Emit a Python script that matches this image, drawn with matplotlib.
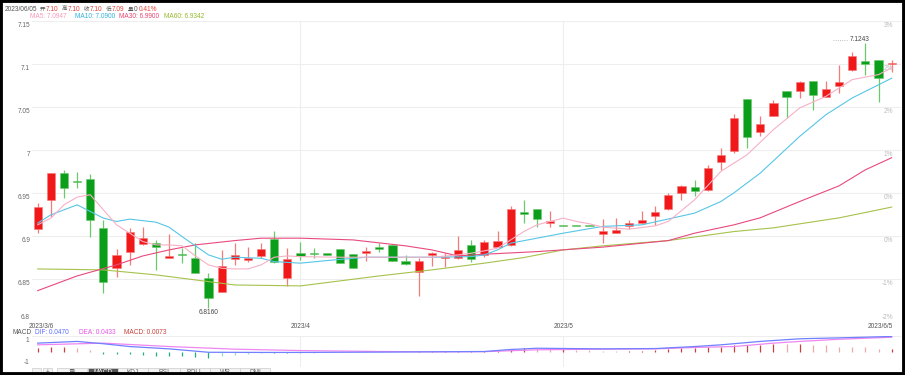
import matplotlib
matplotlib.use('Agg')
import matplotlib.pyplot as plt
from matplotlib.patches import Rectangle
import matplotlib.transforms as mtransforms

plt.rcParams['font.family'] = ['Liberation Sans', 'Noto Sans CJK SC', 'DejaVu Sans']

# daily candles, 2023/3/6 .. 2023/6/5 (red = up, green = down)
opens = [6.9077, 6.9418, 6.9728, 6.9635, 6.9662, 6.9089, 6.8624, 6.8817, 6.8907, 6.8914,
         6.8740, 6.8786, 6.8740, 6.8507, 6.8352, 6.8728, 6.8720, 6.8767, 6.8965, 6.8507,
         6.8798, 6.8798, 6.8790, 6.8845, 6.8786, 6.8806, 6.8876, 6.8891, 6.8713, 6.8585,
         6.8775, 6.8743, 6.8740, 6.8891, 6.8779, 6.8876, 6.8895, 6.9271, 6.9314, 6.9147,
         6.9118, 6.9118, 6.9118, 6.9023, 6.9038, 6.9120, 6.9155, 6.9232, 6.9310, 6.9496,
         6.9566, 6.9527, 6.9856, 6.9988, 7.0589, 7.0205, 7.0387, 7.0678, 7.0686, 7.0794,
         7.0608, 7.0744, 7.0930, 7.1035, 7.1046, 7.0996]
highs = [6.9387, 6.9730, 6.9770, 6.9736, 6.9720, 6.9186, 6.8845, 6.9089, 6.9100, 6.8953,
         6.9019, 6.8856, 6.8922, 6.8566, 6.8837, 6.8922, 6.8868, 6.8922, 6.9058, 6.8864,
         6.8934, 6.8856, 6.8795, 6.8850, 6.8790, 6.8876, 6.8914, 6.8895, 6.8779, 6.8740,
         6.8817, 6.8798, 6.9000, 6.8953, 6.8953, 6.9058, 6.9341, 6.9418, 6.9314, 6.9283,
         6.9118, 6.9118, 6.9118, 6.9193, 6.9205, 6.9186, 6.9283, 6.9341, 6.9496, 6.9593,
         6.9651, 6.9820, 7.0019, 7.0415, 7.0589, 7.0388, 7.0581, 7.0678, 7.0794, 7.0794,
         7.0802, 7.0988, 7.1132, 7.1243, 7.1046, 7.1046]
lows = [6.9030, 6.9224, 6.9438, 6.9554, 6.8990, 6.8333, 6.8527, 6.8662, 6.8895, 6.8604,
        6.8740, 6.8682, 6.8566, 6.8160, 6.8352, 6.8662, 6.8700, 6.8740, 6.8690, 6.8418,
        6.8720, 6.8740, 6.8782, 6.8690, 6.8631, 6.8709, 6.8817, 6.8713, 6.8662, 6.8302,
        6.8651, 6.8635, 6.8728, 6.8701, 6.8752, 6.8868, 6.8883, 6.9155, 6.9108, 6.9101,
        6.9114, 6.9114, 6.9114, 6.8914, 6.9031, 6.9081, 6.9147, 6.9128, 6.9302, 6.9418,
        6.9457, 6.9520, 6.9767, 6.9961, 7.0019, 7.0163, 7.0387, 7.0368, 7.0601, 7.0457,
        7.0608, 7.0659, 7.0911, 7.0872, 7.0550, 7.0907]
closes = [6.9333, 6.9728, 6.9554, 6.9630, 6.9186, 6.8469, 6.8779, 6.9050, 6.8980, 6.8876,
          6.8767, 6.8775, 6.8566, 6.8275, 6.8655, 6.8779, 6.8748, 6.8848, 6.8701, 6.8728,
          6.8767, 6.8795, 6.8786, 6.8690, 6.8631, 6.8825, 6.8849, 6.8713, 6.8670, 6.8709,
          6.8798, 6.8752, 6.8837, 6.8728, 6.8926, 6.8942, 6.9314, 6.9263, 6.9193, 6.9167,
          6.9116, 6.9116, 6.9116, 6.9058, 6.9069, 6.9147, 6.9186, 6.9275, 6.9476, 6.9581,
          6.9515, 6.9790, 6.9942, 7.0368, 7.0143, 7.0302, 7.0543, 7.0608, 7.0783, 7.0632,
          7.0705, 7.0783, 7.1093, 7.0996, 7.0833, 7.1003]

# moving averages (candle index, value)
ma5_x = [0, 1, 2, 3, 4, 5, 6, 7, 8, 9, 10, 11, 12, 13, 14, 15, 16, 17, 18, 19, 20, 23, 26, 30, 32, 33,
         34, 35, 36, 37, 38, 39, 40, 41, 42, 43, 45, 47, 48, 50, 52, 54, 56, 58, 60, 61, 62, 64, 65]
ma5_y = [6.9128, 6.9206, 6.9360, 6.9450, 6.9477, 6.9302, 6.9128, 6.9031, 6.8934, 6.8895, 6.8895,
         6.8884, 6.8767, 6.8663, 6.8624, 6.8616, 6.8616, 6.8663, 6.8752, 6.8767, 6.8759, 6.8752,
         6.8752, 6.8752, 6.8779, 6.8799, 6.8826, 6.8857, 6.8953, 6.9050, 6.9128, 6.9167, 6.9206,
         6.9167, 6.9140, 6.9101, 6.9078, 6.9116, 6.9167, 6.9419, 6.9748, 6.9942, 7.0233, 7.0485,
         7.0620, 7.0717, 7.0814, 7.0872, 7.0950]
ma10_x = [0, 1, 3, 5, 6, 7, 9, 10, 11, 13, 14, 15, 17, 18, 20, 22, 25, 28, 30, 33, 34, 35, 36, 38,
          40, 43, 46, 50, 52, 53, 55, 58, 60, 62, 65]
ma10_y = [6.9148, 6.9244, 6.9360, 6.9206, 6.9167, 6.9194, 6.9159, 6.9101, 6.8990, 6.8779, 6.8729,
          6.8752, 6.8740, 6.8701, 6.8683, 6.8713, 6.8752, 6.8752, 6.8752, 6.8759, 6.8779, 6.8837,
          6.8915, 6.8973, 6.9031, 6.9110, 6.9128, 6.9264, 6.9399, 6.9500, 6.9729, 7.0155, 7.0407,
          7.0601, 7.0830]
ma30_x = [0, 3, 6, 8, 10, 12, 15, 17, 20, 24, 28, 30, 32, 34, 38, 43, 48, 50, 53, 55, 58, 61, 63, 65]
ma30_y = [6.8364, 6.8535, 6.8663, 6.8767, 6.8837, 6.8895, 6.8945, 6.8973, 6.8973, 6.8953, 6.8884,
          6.8837, 6.8767, 6.8787, 6.8817, 6.8869, 6.8945, 6.9031, 6.9128, 6.9210, 6.9399, 6.9581,
          6.9767, 6.9907]
ma60_x = [0, 5, 9, 15, 20, 26, 30, 34, 37, 40, 43, 48, 53, 56, 61, 65]
ma60_y = [6.8616, 6.8605, 6.8547, 6.8430, 6.8419, 6.8535, 6.8605, 6.8683, 6.8748, 6.8837, 6.8884,
          6.8945, 6.9050, 6.9093, 6.9209, 6.9334]

# MACD pane (axis units: top = 1, bottom = -1)
dif_x = [0, 3, 5, 7, 10, 13, 17, 20, 26, 30, 34, 36, 38, 43, 47, 50, 52, 55, 58, 61, 65]
dif_y = [0.54, 0.65, 0.50, 0.32, 0.17, -0.05, -0.06, -0.06, -0.04, -0.02, 0.0, 0.13, 0.21, 0.17,
         0.19, 0.32, 0.43, 0.65, 0.82, 0.88, 0.97]
dea_x = [0, 5, 10, 15, 20, 26, 30, 34, 38, 43, 47, 50, 53, 56, 58, 61, 65]
dea_y = [0.43, 0.54, 0.32, 0.15, 0.06, 0.0, -0.02, -0.01, 0.11, 0.15, 0.17, 0.26, 0.32, 0.54, 0.65,
         0.79, 0.92]
hist = [0.21, 0.26, 0.26, 0.21, 0.11, -0.17, -0.17, -0.17, -0.21, -0.28, -0.32, -0.32, -0.37, -0.43,
        -0.32, -0.21, -0.17, -0.11, -0.11, -0.11, -0.10, -0.07, -0.05, -0.04, -0.03, -0.02, -0.02,
        -0.01, -0.01, 0.01, 0.01, 0.01, 0.02, 0.02, 0.03, 0.06, 0.13, 0.21, 0.17, 0.13, 0.13, 0.10,
        0.07, 0.06, 0.05, 0.05, 0.06, 0.08, 0.15, 0.21, 0.21, 0.26, 0.32, 0.43, 0.43, 0.43, 0.50,
        0.47, 0.47, 0.43, 0.39, 0.32, 0.28, 0.26, 0.17, 0.17]

price_levels = [7.15, 7.1, 7.05, 7.0, 6.95, 6.9, 6.85, 6.8]
price_labels = ['7.15', '7.1', '7.05', '7', '6.95', '6.9', '6.85', '6.8']
pct_labels = ['3%', '2%', '2%', '1%', '0%', '0%', '-1%', '-2%']
month_pos = [0, 20, 40, 65]
month_labels = ['2023/3/6', '2023/4', '2023/5', '2023/6/5']
tab_labels = ['量', 'MACD', 'KDJ', 'RSI', 'BOLL', 'WR', 'DMI']

W, H = 905, 375
def fx(x):
    return x / W
def fy(y):
    return 1 - y / H

UP, DOWN = '#f01818', '#0a9e1a'
UP_W, DOWN_W = '#f57a7a', '#6cc86c'
GRID = '#eeeeee'
FS = 4.7

fig = plt.figure(figsize=(9.05, 3.75), dpi=100)
fig.patch.set_facecolor('white')

x0, x1 = -0.434, 65.71
ax = fig.add_axes([fx(32), fy(322), (901 - 32) / W, (322 - 20.5) / H])
ax.set_xlim(x0, x1)
ax.set_ylim(6.8, 7.15)
ax.axis('off')
for lv in price_levels:
    ax.axhline(lv, color=GRID, lw=0.8, zorder=0)
for m in month_pos[1:3]:
    ax.axvline(m, color=GRID, lw=0.8, zorder=0)

for i in range(len(opens)):
    o, h, l, c = opens[i], highs[i], lows[i], closes[i]
    up = c >= o
    ax.vlines(i, l, h, color=UP_W if up else DOWN_W, lw=0.9, zorder=2)
    body = max(abs(c - o), 0.0016)
    ax.bar(i, body, bottom=min(o, c) - (body - abs(c - o)) / 2, width=0.62,
           color=UP if up else DOWN, edgecolor=UP_W if up else DOWN_W, lw=0.4, zorder=3)

ax.plot(ma60_x, ma60_y, color='#a6c24c', lw=0.8, zorder=4)
ax.plot(ma30_x, ma30_y, color='#e84a7c', lw=0.8, zorder=4)
ax.plot(ma10_x, ma10_y, color='#56c6e6', lw=0.8, zorder=4)
ax.plot(ma5_x, ma5_y, color='#f7b0c6', lw=0.8, zorder=4)

ax.text(13, lows[13] - 0.0012, '6.8160', ha='center', va='top', fontsize=FS, color='#444')
ax.text(63.3, highs[63], '7.1243', ha='right', va='bottom', fontsize=FS, color='#444')
ax.plot([60.5, 61.6], [highs[63] + 0.0035] * 2, ls=':', color='#aaaaaa', lw=0.6)

blend = mtransforms.blended_transform_factory(fig.transFigure, ax.transData)
for lv, lab, pl in zip(price_levels, price_labels, pct_labels):
    va = 'bottom' if lv == 6.8 else 'top'
    off = 0.0015 if lv == 6.8 else -0.0012
    ax.text(fx(30), lv + off, lab, transform=blend, ha='right', va=va, fontsize=FS, color='#666')
    ax.text(fx(893), lv + off, pl, transform=blend, ha='right', va=va, fontsize=FS, color='#bbbbbb')

# date labels
for p, lab in zip(month_pos, month_labels):
    xp = 37.7 + p * 13.138
    ha = 'left' if p == 0 else ('right' if p == 65 else 'center')
    if p == 0:
        xp = 29
    if p == 65:
        xp = 893
    fig.text(fx(xp), fy(326), lab, ha=ha, va='center', fontsize=FS, color='#555')

# MACD pane
mx = fig.add_axes([fx(32), fy(367), (901 - 32) / W, (367 - 336) / H])
mx.set_xlim(x0, x1)
mx.set_ylim(-1, 1)
mx.axis('off')
mx.axhline(1, color=GRID, lw=0.8, zorder=0)
mx.axhline(-1, color=GRID, lw=0.8, zorder=0)
for m in month_pos[1:3]:
    mx.axvline(m, color=GRID, lw=0.8, zorder=0)
for i, v in enumerate(hist):
    grow = i == 0 or abs(v) >= abs(hist[i - 1])
    if v >= 0:
        col = '#c9403a' if grow else '#f0a8a8'
    else:
        col = '#1fae80' if grow else '#9adfc6'
    mx.vlines(i, 0, v, color=col, lw=0.9, zorder=2)
mx.plot(dea_x, dea_y, color='#ef86f0', lw=0.9, zorder=3)
mx.plot(dif_x, dif_y, color='#7080ff', lw=0.9, zorder=4)
fig.text(fx(29), fy(340.5), '1', ha='right', va='center', fontsize=FS, color='#666')
fig.text(fx(29), fy(362.5), '-1', ha='right', va='center', fontsize=FS, color='#666')

# header rows
head = [(5, '2023/06/05', '#555'), (40, '开', '#555'), (46, '7.10', '#e8403a'),
        (62, '高', '#555'), (68, '7.10', '#e8403a'), (84, '收', '#555'), (90, '7.10', '#e8403a'),
        (106, '低', '#555'), (112, '7.09', '#e8403a'), (128, '量', '#555'), (134, '0', '#555'),
        (139, '0.41%', '#e8403a')]
for x, s, c in head:
    cjk = not s[0].isascii()
    fig.text(fx(x), fy(9.5), s, ha='left', va='center', fontsize=4.0 if cjk else FS, color=c)
ma_head = [(30, 'MA5: 7.0947', '#f79ab8'), (75, 'MA10: 7.0900', '#2fb4dc'),
           (119, 'MA30: 6.9900', '#e6456f'), (164, 'MA60: 6.9342', '#93b82c')]
for x, s, c in ma_head:
    fig.text(fx(x), fy(16), s, ha='left', va='center', fontsize=FS, color=c)
macd_head = [(12, 'MACD', '#555'), (35, 'DIF: 0.0470', '#5b6cff'),
             (79, 'DEA: 0.0433', '#e454e8'), (124, 'MACD: 0.0073', '#c8403a')]
for x, s, c in macd_head:
    fig.text(fx(x), fy(332.5), s, ha='left', va='center', fontsize=FS, color=c)

# indicator tabs at the bottom (partly hidden by the frame)
tabs = [(32, 41), (43, 52), (57, 87), (88, 118), (118, 148), (148, 180), (180, 210), (210, 240), (240, 270)]
tab_text = ['-', '+'] + tab_labels
for (a, b), s in zip(tabs, tab_text):
    sel = s == 'MACD'
    fig.add_artist(Rectangle((fx(a), fy(376)), (b - a) / W, 8.5 / H, transform=fig.transFigure,
                             facecolor='#555555' if sel else '#f3f3f3', edgecolor='#cccccc', lw=0.5, zorder=5))
    fig.text(fx((a + b) / 2), fy(372.5), s, ha='center', va='center', fontsize=FS,
             color='white' if sel else '#666', zorder=6)

fig.add_artist(Rectangle((0, 0), 1, 1, transform=fig.transFigure, fill=False,
                         edgecolor='black', lw=4.2, zorder=10))

fig.savefig('out.png', dpi=100)
